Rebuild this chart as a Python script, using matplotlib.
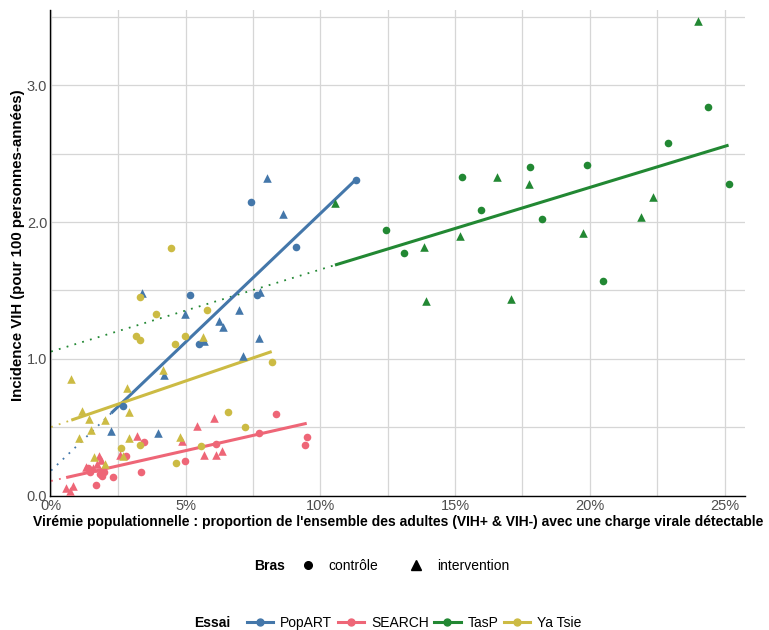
import numpy as np
import matplotlib
matplotlib.use("Agg")
import matplotlib.pyplot as plt
from matplotlib.lines import Line2D
from matplotlib.ticker import FuncFormatter, MultipleLocator

plt.rcParams['font.family'] = ['Liberation Sans', 'DejaVu Sans']

# ---- data (x = virémie en %, y = incidence pour 100 PA) ----
trials = ["PopART", "SEARCH", "TasP", "Ya Tsie"]
colors = ["#4477AA", "#EE6677", "#228833", "#CCBB44"]

popart_ctrl_x = [11.31, 7.41, 9.09, 7.63, 5.15, 5.49, 2.66]
popart_ctrl_y = [2.31, 2.15, 1.82, 1.47, 1.47, 1.11, 0.655]
popart_int_x = [8.02, 8.60, 7.76, 6.99, 6.25, 6.37, 7.73, 4.96, 5.68, 7.11, 3.39, 4.18, 2.23, 3.96]
popart_int_y = [2.32, 2.06, 1.49, 1.36, 1.28, 1.23, 1.15, 1.33, 1.13, 1.02, 1.48, 0.88, 0.47, 0.455]

search_ctrl_x = [1.36, 1.45, 1.66, 1.82, 1.88, 1.95, 2.29, 2.78, 3.34, 3.45, 4.99, 6.11, 7.73, 8.35, 9.49, 9.44]
search_ctrl_y = [0.20, 0.17, 0.077, 0.16, 0.14, 0.17, 0.134, 0.29, 0.175, 0.39, 0.255, 0.38, 0.455, 0.60, 0.426, 0.372]
search_int_x = [0.56, 0.80, 0.70, 1.30, 1.57, 1.79, 1.84, 2.54, 3.20, 4.87, 5.42, 6.05, 5.67, 6.12, 6.36, 1.72]
search_int_y = [0.053, 0.07, 0.03, 0.21, 0.20, 0.29, 0.26, 0.297, 0.435, 0.40, 0.51, 0.565, 0.30, 0.295, 0.326, 0.23]

tasp_ctrl_x = [12.43, 13.10, 15.27, 15.96, 17.77, 18.21, 19.90, 20.50, 22.89, 24.37, 25.15]
tasp_ctrl_y = [1.94, 1.77, 2.33, 2.09, 2.40, 2.02, 2.42, 1.57, 2.58, 2.84, 2.28]
tasp_int_x = [10.54, 13.86, 13.92, 15.19, 16.57, 17.06, 17.74, 19.76, 21.91, 22.35, 24.03]
tasp_int_y = [2.14, 1.82, 1.42, 1.90, 2.33, 1.44, 2.28, 1.92, 2.04, 2.18, 3.47]

yatsie_ctrl_x = [4.44, 3.30, 3.89, 5.80, 3.14, 3.30, 4.96, 4.60, 8.19, 2.59, 3.31, 5.56, 6.58, 7.20, 4.64]
yatsie_ctrl_y = [1.81, 1.45, 1.33, 1.36, 1.17, 1.14, 1.17, 1.11, 0.98, 0.35, 0.37, 0.36, 0.61, 0.50, 0.24]
yatsie_int_x = [5.65, 0.75, 2.80, 4.17, 1.14, 1.39, 2.02, 1.47, 2.90, 1.04, 2.88, 4.79, 1.61, 2.02, 2.66]
yatsie_int_y = [1.16, 0.85, 0.79, 0.92, 0.62, 0.56, 0.55, 0.48, 0.61, 0.42, 0.42, 0.43, 0.28, 0.23, 0.29]

# regression lines per trial
intercepts = [0.183, 0.107, 1.053, 0.501]
slopes = [0.188, 0.0444, 0.060, 0.0674]

ctrl = [(popart_ctrl_x, popart_ctrl_y), (search_ctrl_x, search_ctrl_y),
        (tasp_ctrl_x, tasp_ctrl_y), (yatsie_ctrl_x, yatsie_ctrl_y)]
inter = [(popart_int_x, popart_int_y), (search_int_x, search_int_y),
         (tasp_int_x, tasp_int_y), (yatsie_int_x, yatsie_int_y)]

W, H = 769, 630
fig = plt.figure(figsize=(W / 100, H / 100), dpi=100)
ax = fig.add_axes([50 / W, (H - 496) / H, (745 - 50) / W, (496 - 10) / H])

for i, name in enumerate(trials):
    c = colors[i]
    cx, cy = ctrl[i]
    tx, ty = inter[i]
    xs = np.array(cx + tx)
    x0, x1 = xs.min(), xs.max()
    a, b = intercepts[i], slopes[i]
    # dotted extrapolation to 0
    ax.plot([0, x0], [a, a + b * x0], color=c, lw=1.3, ls=(0, (1, 3.5)), zorder=2)
    ax.plot([x0, x1], [a + b * x0, a + b * x1], color=c, lw=2.2, zorder=3,
            solid_capstyle='butt')
    ax.scatter(cx, cy, s=30, marker='o', color=c, linewidths=0, zorder=4)
    ax.scatter(tx, ty, s=38, marker='^', color=c, linewidths=0, zorder=4)

ax.set_xlim(-0.04, 25.76)
ax.set_ylim(-0.003, 3.55)
ax.xaxis.set_major_locator(MultipleLocator(5))
ax.xaxis.set_minor_locator(MultipleLocator(2.5))
ax.yaxis.set_major_locator(MultipleLocator(1))
ax.yaxis.set_minor_locator(MultipleLocator(0.5))
ax.xaxis.set_major_formatter(FuncFormatter(lambda v, p: f"{v:.0f}%"))
ax.yaxis.set_major_formatter(FuncFormatter(lambda v, p: f"{v:.1f}"))
ax.grid(which='both', color='#D6D6D6', lw=0.9)
ax.set_axisbelow(True)
ax.tick_params(which='both', length=0, labelsize=10.5, labelcolor='#4D4D4D', pad=2)
for s in ['top', 'right']:
    ax.spines[s].set_visible(False)
for s in ['left', 'bottom']:
    ax.spines[s].set_color('black')
    ax.spines[s].set_linewidth(1.0)

ax.set_xlabel("Virémie populationnelle : proportion de l'ensemble des adultes (VIH+ & VIH-) avec une charge virale détectable",
              fontsize=10.0, fontweight='bold')
ax.xaxis.label.set_va('top')
ax.xaxis.set_label_coords((398 - 50) / 695, -(523 - 496 - 8) / 486)
ax.set_ylabel("Incidence VIH (pour 100 personnes-années)", fontsize=10.8, fontweight='bold')
ax.yaxis.set_label_coords(-(50 - 25) / 695, (496 - 245) / 486)

# legend: Bras
fs = 10.0
fig.text(254 / W, 1 - 566 / H, "Bras", fontsize=fs, fontweight='bold', va='center', ha='left')
bras_handles = [Line2D([], [], ls='', marker='o', color='black', markersize=5.5),
                Line2D([], [], ls='', marker='^', color='black', markersize=6.5)]
fig.legend(bras_handles, ["contrôle", "intervention"], loc='center left',
           bbox_to_anchor=(287 / W, 1 - 566 / H), ncol=2, frameon=False,
           fontsize=fs, handlelength=1.2, handletextpad=0.9, columnspacing=2.1)

# legend: Essai
fig.text(194 / W, 1 - 623 / H, "Essai", fontsize=fs, fontweight='bold', va='center', ha='left')
essai_handles = [Line2D([], [], color=c, lw=2.2, marker='o', markersize=5) for c in colors]
fig.legend(essai_handles, trials, loc='center left',
           bbox_to_anchor=(234 / W, 1 - 623 / H), ncol=4, frameon=False,
           fontsize=fs, handlelength=1.9, handletextpad=0.5, columnspacing=0.4)

fig.savefig("out.png", dpi=100)
